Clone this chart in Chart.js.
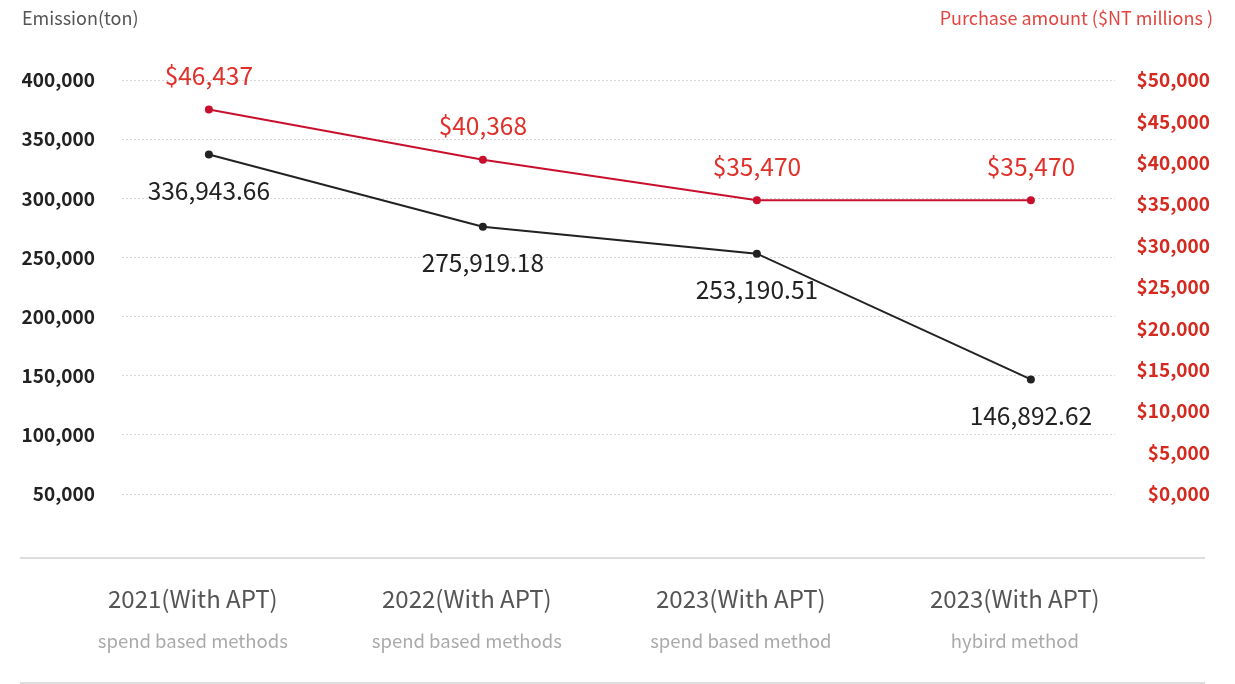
<!DOCTYPE html>
<html>
<head>
<meta charset="utf-8">
<script src="https://cdn.jsdelivr.net/npm/chart.js@4"></script>
<style>
  body { margin: 0; background: #fff; font-family: "Noto Sans CJK TC", "Noto Sans", sans-serif; }
  .wrap { position: relative; width: 1235px; height: 684px; }
  .ttl { position: absolute; top: 4px; font-size: 18px; line-height: 26px; }
  #leftTitle { left: 22px; color: #555; }
  #rightTitle { right: 22px; color: #e2453f; }
</style>
</head>
<body>
<div class="wrap">
  <canvas id="myChart" width="1235" height="684"></canvas>
  <div class="ttl" id="leftTitle">Emission(ton)</div>
  <div class="ttl" id="rightTitle">Purchase amount ($NT millions )</div>
</div>
<script>
// categories (two lines each)
const years = ["2021(With APT)", "2022(With APT)", "2023(With APT)", "2023(With APT)"];
const methods = ["spend based methods", "spend based methods", "spend based method", "hybird method"];

// series
const emission = [336943.66, 275919.18, 253190.51, 146892.62];
const emissionText = ["336,943.66", "275,919.18", "253,190.51", "146,892.62"];
const purchase = [46437, 40368, 35470, 35470];
const purchaseText = ["$46,437", "$40,368", "$35,470", "$35,470"];

// tick labels
const leftTicks = [50000, 100000, 150000, 200000, 250000, 300000, 350000, 400000];
const leftTickLabels = ["50,000", "100,000", "150,000", "200,000", "250,000", "300,000", "350,000", "400,000"];
const rightTicks = [0, 5000, 10000, 15000, 20000, 25000, 30000, 35000, 40000, 45000, 50000];
const rightTickLabels = ["$0,000", "$5,000", "$10,000", "$15,000", "$20.000", "$25,000", "$30,000", "$35,000", "$40,000", "$45,000", "$50,000"];

const FONT = '"Noto Sans CJK TC", "Noto Sans", sans-serif';
const RED = "#c8102e";
const DARK = "#222222";

// value labels + the two light rules around the category area
const extras = {
  id: "extras",
  afterDatasetsDraw(chart) {
    const ctx = chart.ctx;
    ctx.save();
    ctx.font = "24.5px " + FONT;
    ctx.textAlign = "center";
    ctx.textBaseline = "middle";
    chart.data.datasets.forEach((ds, i) => {
      const meta = chart.getDatasetMeta(i);
      meta.data.forEach((pt, j) => {
        ctx.fillStyle = ds.labelColor;
        ctx.fillText(ds.labels[j], pt.x, pt.y + ds.labelShift);
      });
    });
    ctx.restore();
  },
  afterDraw(chart) {
    const ctx = chart.ctx;
    const b = chart.chartArea.bottom;
    ctx.save();
    ctx.strokeStyle = "#dddddd";
    ctx.lineWidth = 2;
    ctx.beginPath();
    ctx.moveTo(20, b); ctx.lineTo(1205, b);
    ctx.moveTo(20, chart.height - 1); ctx.lineTo(1205, chart.height - 1);
    ctx.stroke();
    ctx.restore();
  }
};

const xRange = { min: -0.317, max: 3.307 };
const catTicks = axis => { axis.ticks = years.map((_, i) => ({ value: i })); };
const fixBox = size => axis => {
  if (axis.isHorizontal()) { axis.height = size; axis.paddingLeft = 0; axis.paddingRight = 0; }
  else { axis.width = size; axis.paddingTop = 0; axis.paddingBottom = 0; }
};

new Chart(document.getElementById("myChart"), {
  type: "line",
  data: {
    datasets: [
      {
        data: purchase.map((v, i) => ({ x: i, y: v })),
        yAxisID: "y1",
        borderColor: RED,
        backgroundColor: RED,
        borderWidth: 2,
        pointRadius: 4,
        pointBorderWidth: 0,
        labels: purchaseText,
        labelColor: "#e0302a",
        labelShift: -34
      },
      {
        data: emission.map((v, i) => ({ x: i, y: v })),
        yAxisID: "y",
        borderColor: DARK,
        backgroundColor: DARK,
        borderWidth: 2,
        pointRadius: 4,
        pointBorderWidth: 0,
        labels: emissionText,
        labelColor: DARK,
        labelShift: 36
      }
    ]
  },
  options: {
    responsive: false,
    animation: false,
    layout: { padding: { left: 22, right: 25, top: 80, bottom: 0 } },
    plugins: { legend: { display: false }, tooltip: { enabled: false } },
    scales: {
      x: {
        type: "linear", position: "bottom", ...xRange,
        afterBuildTicks: catTicks,
        afterFit: fixBox(62),
        grid: { display: false, drawTicks: false }, border: { display: false },
        ticks: {
          autoSkip: false, maxRotation: 0, minRotation: 0, padding: 26, labelOffset: -16,
          color: "#555", font: { family: FONT, size: 24 },
          callback: (v, i) => years[i]
        }
      },
      x2: {
        type: "linear", position: "bottom", ...xRange,
        afterBuildTicks: catTicks,
        afterFit: fixBox(64),
        grid: { display: false, drawTicks: false }, border: { display: false },
        ticks: {
          autoSkip: false, maxRotation: 0, minRotation: 0, padding: 10, labelOffset: -16,
          color: "#aaa", font: { family: FONT, size: 18.5 },
          callback: (v, i) => methods[i]
        }
      },
      y: {
        position: "left", min: -4106, max: 400000,
        afterBuildTicks: axis => { axis.ticks = leftTicks.map(v => ({ value: v })); },
        afterFit: fixBox(100),
        grid: { color: "#d8d8d8", lineWidth: 1, drawTicks: false },
        border: { display: false, dash: [2, 2] },
        ticks: {
          padding: 27, color: DARK,
          font: { family: FONT, size: 19, weight: "bold" },
          callback: (v, i) => leftTickLabels[i]
        }
      },
      y1: {
        position: "right", min: -7729, max: 50000,
        afterBuildTicks: axis => { axis.ticks = rightTicks.map(v => ({ value: v })); },
        afterFit: fixBox(95),
        grid: { display: false, drawTicks: false }, border: { display: false },
        ticks: {
          padding: 23, crossAlign: "far", color: "#d42a1f",
          font: { family: FONT, size: 19, weight: "bold" },
          callback: (v, i) => rightTickLabels[i]
        }
      }
    }
  },
  plugins: [extras]
});
</script>
</body>
</html>
